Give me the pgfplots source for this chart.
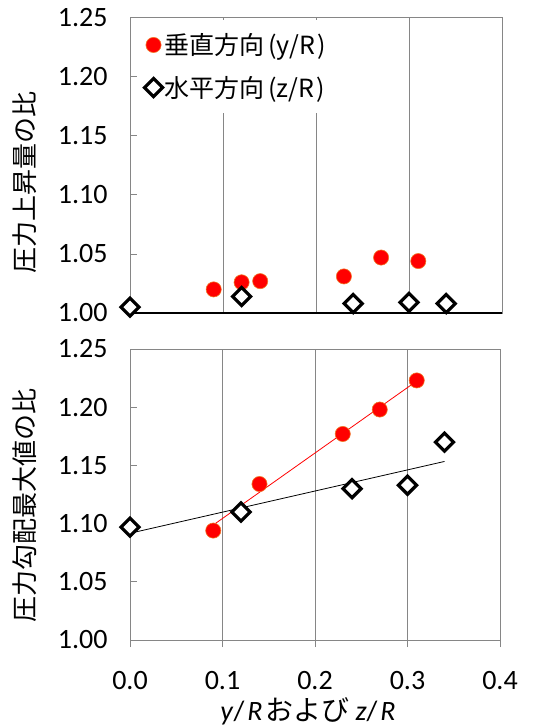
\documentclass[border=0pt]{standalone}
\usepackage{fontspec}
\setmainfont{Carlito}
\newfontfamily\jp{Noto Sans CJK JP}
\usepackage{pgfplots}
\pgfplotsset{compat=1.18}
\definecolor{gridgray}{RGB}{134,134,134}
\definecolor{markedge}{RGB}{240,120,40}
\definecolor{mred}{RGB}{255,0,0}
\begin{document}
\begin{tikzpicture}
\useasboundingbox (0,0) rectangle (538pt,-727pt);
\pgfplotsset{
  common/.style={
    scale only axis,
    xmin=0, xmax=0.4, ymin=1.0, ymax=1.25,
    ytick={1,1.05,1.1,1.15,1.2,1.25},
    yticklabel style={xshift=-19pt, /pgf/number format/.cd, fixed, fixed zerofill, precision=2},
    /pgf/number format/assume math mode=true,
    tick label style={font=\fontsize{28}{32}\selectfont},
    ytick pos=left, xtick pos=bottom,
    axis line style={gridgray, line width=1pt},
    major grid style={gridgray, line width=0.9pt},
    tick align=inside, major tick length=7pt,
    every tick/.style={gridgray, line width=1pt},
    clip=false,
  },
  redm/.style={only marks, mark=*, mark size=7.6pt, mark options={fill=mred, draw=markedge, line width=0.6pt}},
  diam/.style={only marks, mark=square*, mark size=6.4pt, mark options={rotate=45, fill=white, draw=black, line width=3.2pt}},
}
% ---------- top panel ----------
\begin{axis}[common,
  at={(130pt,-313pt)}, anchor=south west, width=372pt, height=295pt,
  xtick=\empty,
  ylabel={\jp 圧力上昇量の比},
  every axis y label/.style={at={(rel axis cs:0,0.5)}, xshift=-105pt, yshift=-17pt, rotate=90, anchor=center, font=\fontsize{26}{30}\selectfont},
  legend style={at={(rel axis cs:0.033,0.995)}, anchor=north west, draw=none, fill=white,
    font=\jp\fontsize{25}{30}\selectfont, row sep=16pt, inner xsep=2pt, inner ysep=12pt},
  /tikz/every even column/.append style={column sep=6pt},
  legend cell align=left,
]
\addplot[gridgray, line width=0.9pt, forget plot] coordinates {(0.1,1) (0.1,1.25)};
\addplot[gridgray, line width=0.9pt, forget plot] coordinates {(0.2,1) (0.2,1.25)};
\addplot[gridgray, line width=0.9pt, forget plot] coordinates {(0.3,1) (0.3,1.25)};
\addplot[black, line width=1.3pt, forget plot] coordinates {(0,1) (0.4,1)};
\addplot[redm] coordinates {(0.09,1.020) (0.12,1.026) (0.14,1.027) (0.23,1.031) (0.27,1.047) (0.31,1.044)};
\addlegendentry{垂直方向\hspace{0.15em}(y/R\hspace{0.1em})}
\addplot[diam] coordinates {(0,1.005) (0.12,1.014) (0.24,1.008) (0.30,1.009) (0.34,1.008)};
\addlegendentry{水平方向\hspace{0.15em}(z/R\hspace{0.1em})}
\end{axis}
% ---------- bottom panel ----------
\begin{axis}[common,
  at={(130pt,-640pt)}, anchor=south west, width=370pt, height=291pt,
  xtick={0,0.1,0.2,0.3,0.4},
  xticklabel style={yshift=-21pt, /pgf/number format/.cd, fixed, fixed zerofill, precision=1},
  xtick align=outside,
  xmajorgrids,
  ylabel={\jp 圧力勾配最大値の比},
  every axis y label/.style={at={(rel axis cs:0,0.5)}, xshift=-105pt, yshift=-11pt, rotate=90, anchor=center, font=\fontsize{26}{30}\selectfont},
  xlabel={\textit{y}/\hspace{0.1em}\textit{R}\hspace{0.1em}{\jp および} \textit{z}/\hspace{0.1em}\textit{R}},
  every axis x label/.style={at={(rel axis cs:0.5,0)}, xshift=-7pt, yshift=-71pt, anchor=center, font=\fontsize{28}{31}\selectfont},
]
\addplot[red, line width=0.8pt, forget plot] coordinates {(0.09,1.0988) (0.31,1.2225)};
\addplot[black, line width=0.8pt, forget plot] coordinates {(0,1.0917) (0.34,1.1534)};
\addplot[redm] coordinates {(0.09,1.094) (0.14,1.134) (0.23,1.177) (0.27,1.198) (0.31,1.223)};
\addplot[diam] coordinates {(0,1.097) (0.12,1.110) (0.24,1.130) (0.30,1.133) (0.34,1.170)};
\end{axis}
\end{tikzpicture}
\end{document}
